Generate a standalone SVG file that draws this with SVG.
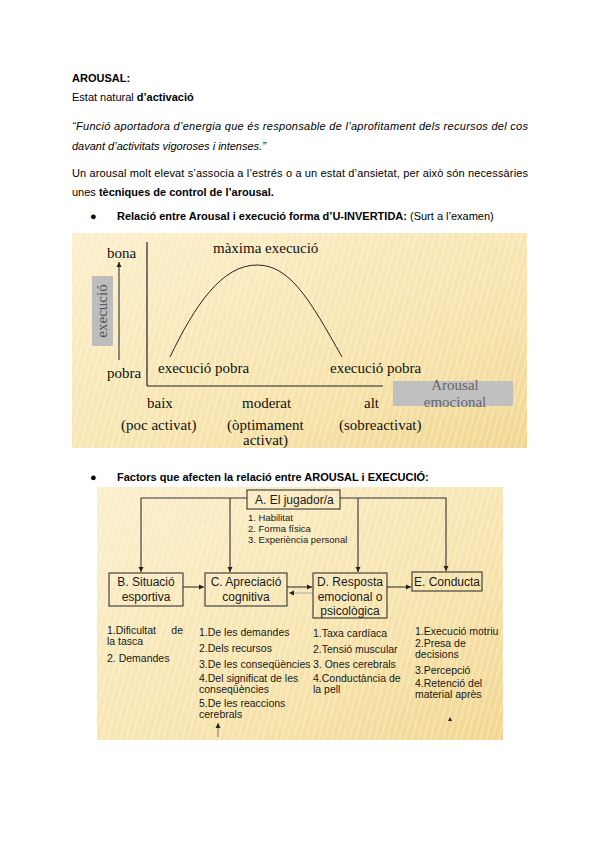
<svg xmlns="http://www.w3.org/2000/svg" width="600" height="848" viewBox="0 0 600 848">
<style>
.t{font-family:"Liberation Sans",Arial,sans-serif;font-size:11px;fill:#000}
.b{font-weight:bold}
.g{font-family:"Liberation Serif","Times New Roman",serif;font-size:15px;fill:#111}
.f{font-family:"Liberation Sans",Arial,sans-serif;font-size:12px;fill:#1a1a1a}
.s{font-family:"Liberation Sans",Arial,sans-serif;font-size:10.5px;fill:#1a1a1a}
.a{font-family:"Liberation Sans",Arial,sans-serif;font-size:9.5px;fill:#1a1a1a}
.box{fill:none;stroke:#333;stroke-width:1.1}
.ln{fill:none;stroke:#333;stroke-width:1.1}
</style>
<defs>
<linearGradient id="bg" x1="0" y1="0" x2="1" y2="1">
<stop offset="0" stop-color="#fbefcc"/>
<stop offset="0.6" stop-color="#f7e4ad"/>
<stop offset="1" stop-color="#f1d690"/>
</linearGradient>
<pattern id="st" width="6" height="6" patternUnits="userSpaceOnUse" patternTransform="rotate(15)">
<rect width="2" height="6" fill="#fff" opacity="0.25"/>
</pattern>
<marker id="ah" markerWidth="6" markerHeight="6" refX="5" refY="3" orient="auto" markerUnits="userSpaceOnUse">
<path d="M0,0.5 L5,3 L0,5.5 z" fill="#222"/>
</marker>
</defs>
<rect width="600" height="848" fill="#fff"/>

<!-- text block -->
<text class="t b" x="72" y="82">AROUSAL:</text>
<text class="t" x="72" y="101">Estat natural <tspan class="b">d’activació</tspan></text>
<text class="t" x="72" y="130" font-style="italic" textLength="456" lengthAdjust="spacing">“Funció aportadora d’energia que és responsable de l’aprofitament dels recursos del cos</text>
<text class="t" x="72" y="150" font-style="italic">davant d’activitats vigoroses i intenses.”</text>
<text class="t" x="72" y="177" textLength="456" lengthAdjust="spacing">Un arousal molt elevat s’associa a l’estrés o a un estat d’ansietat, per això són necessàries</text>
<text class="t" x="72" y="196">unes <tspan class="b">tècniques de control de l’arousal.</tspan></text>
<text class="t" x="90" y="220">●</text>
<text class="t" x="117" y="220"><tspan class="b">Relació entre Arousal i execució forma d’U-INVERTIDA:</tspan> (Surt a l’examen)</text>

<!-- graph -->
<g id="graph">
<rect x="72" y="233" width="455" height="215" fill="url(#bg)"/>
<rect x="72" y="233" width="455" height="215" fill="url(#st)"/>
<text class="g" x="107" y="258">bona</text>
<text class="g" x="107" y="378">pobra</text>
<line x1="119" y1="360" x2="119" y2="262" class="ln" marker-end="url(#ah)"/>
<rect x="92" y="276" width="21" height="70" fill="#bdbdbd"/>
<text class="g" x="0" y="0" style="fill:#555" text-anchor="middle" transform="translate(107,311) rotate(-90)">execució</text>
<line x1="147" y1="242" x2="147" y2="386" stroke="#222" stroke-width="1.2"/>
<line x1="147" y1="386" x2="383" y2="386" stroke="#222" stroke-width="1.2"/>
<path d="M170,357 C195,305 222,265 257,265 C290,265 310,300 342,357" fill="none" stroke="#222" stroke-width="1"/>
<text class="g" x="213" y="253">màxima execució</text>
<text class="g" x="158" y="373">execució pobra</text>
<text class="g" x="330" y="373">execució pobra</text>
<rect x="393" y="381" width="120" height="25" fill="#c0c0c0"/>
<text class="g" x="455" y="390" text-anchor="middle" style="fill:#666">Arousal</text>
<text class="g" x="455" y="407" text-anchor="middle" style="fill:#666">emocional</text>
<text class="g" x="147" y="408">baix</text>
<text class="g" x="242" y="408">moderat</text>
<text class="g" x="364" y="408">alt</text>
<text class="g" x="121" y="430">(poc activat)</text>
<text class="g" x="227" y="430">(òptimament</text>
<text class="g" x="243" y="445">activat)</text>
<text class="g" x="339" y="430">(sobreactivat)</text>
</g>

<text class="t" x="90" y="481">●</text>
<text class="t b" x="117" y="481">Factors que afecten la relació entre AROUSAL i EXECUCIÓ:</text>

<!-- factors -->
<rect x="97" y="487" width="406" height="253" fill="url(#bg)"/>
<rect x="97" y="487" width="406" height="253" fill="url(#st)"/>

<g id="connectors">
<polyline class="ln" points="247,498 141,498 141,572" marker-end="url(#ah)"/>
<line class="ln" x1="230" y1="498" x2="230" y2="572" marker-end="url(#ah)"/>
<polyline class="ln" points="340,498 446,498 446,571" marker-end="url(#ah)"/>
<line class="ln" x1="358" y1="498" x2="358" y2="572" marker-end="url(#ah)"/>
<line class="ln" x1="183" y1="587" x2="204" y2="587" marker-end="url(#ah)"/>
<line class="ln" x1="287" y1="587" x2="312" y2="587" marker-end="url(#ah)"/>
<line x1="312" y1="593" x2="289" y2="593" stroke="#999" stroke-width="0.8" marker-end="url(#ah)"/>
<line class="ln" x1="387" y1="587" x2="411" y2="587" marker-end="url(#ah)"/>
<line x1="218" y1="737" x2="218" y2="723" stroke="#777" stroke-width="1" marker-end="url(#ah)"/>
</g>

<g id="nodeA">
<rect class="box" x="247" y="490" width="93" height="19"/>
<text class="f" x="255" y="504">A. El jugador/a</text>
<text class="a" x="248" y="521">1. Habilitat</text>
<text class="a" x="248" y="532">2. Forma física</text>
<text class="a" x="248" y="543">3. Experiència personal</text>
</g>
<g id="nodeB">
<rect class="box" x="109" y="573" width="74" height="33"/>
<text class="f" x="146" y="586" text-anchor="middle">B. Situació</text>
<text class="f" x="146" y="601" text-anchor="middle">esportiva</text>
<text class="s" x="107" y="634">1.Dificultat</text>
<text class="s" x="183" y="634" text-anchor="end">de</text>
<text class="s" x="107" y="645">la tasca</text>
<text class="s" x="107" y="662">2. Demandes</text>
</g>
<g id="nodeC">
<rect class="box" x="205" y="573" width="82" height="33"/>
<text class="f" x="246" y="586" text-anchor="middle">C. Apreciació</text>
<text class="f" x="246" y="601" text-anchor="middle">cognitiva</text>
<text class="s" x="199" y="636">1.De les demandes</text>
<text class="s" x="199" y="652">2.Dels recursos</text>
<text class="s" x="199" y="668">3.De les conseqüències</text>
<text class="s" x="199" y="682">4.Del significat de les</text>
<text class="s" x="199" y="693">conseqüències</text>
<text class="s" x="199" y="707">5.De les reaccions</text>
<text class="s" x="199" y="718">cerebrals</text>
</g>
<g id="nodeD">
<rect class="box" x="313" y="573" width="74" height="45"/>
<text class="f" x="350" y="586" text-anchor="middle">D. Resposta</text>
<text class="f" x="350" y="601" text-anchor="middle">emocional o</text>
<text class="f" x="350" y="615" text-anchor="middle">psicològica</text>
<text class="s" x="313" y="637">1.Taxa cardíaca</text>
<text class="s" x="313" y="653">2.Tensió muscular</text>
<text class="s" x="313" y="668">3. Ones cerebrals</text>
<text class="s" x="313" y="682">4.Conductància de</text>
<text class="s" x="313" y="693">la pell</text>
</g>
<g id="nodeE">
<rect class="box" x="412" y="572" width="70" height="19"/>
<text class="f" x="447" y="586" text-anchor="middle">E. Conducta</text>
<text class="s" x="415" y="635">1.Execució motriu</text>
<text class="s" x="415" y="647">2.Presa de</text>
<text class="s" x="415" y="658">decisions</text>
<text class="s" x="415" y="674">3.Percepció</text>
<text class="s" x="415" y="687">4.Retenció del</text>
<text class="s" x="415" y="698">material après</text>
<path d="M448,721 L450,717 L452,721 z" fill="#222"/>
</g>
</svg>
